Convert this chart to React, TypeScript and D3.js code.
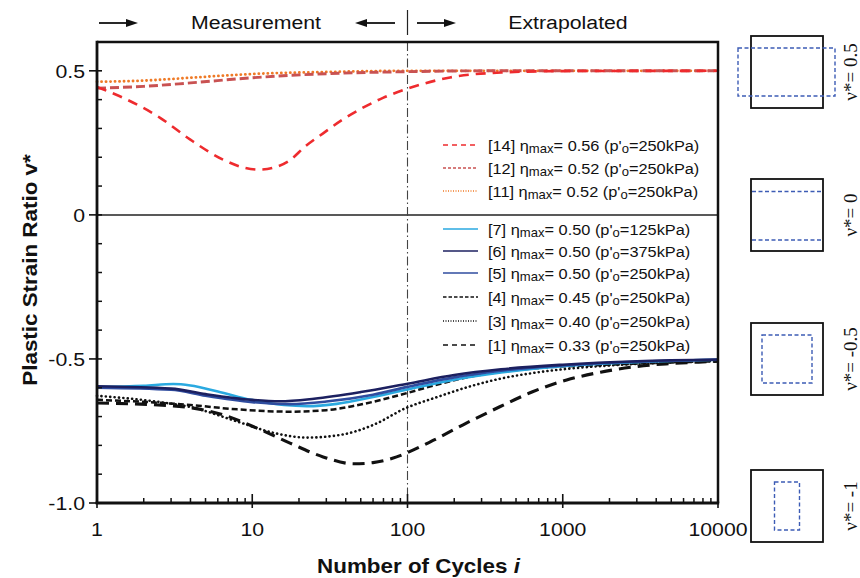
import React from "react";
import * as d3 from "d3";

// ---------- data ----------
const xTicksMajor = [1, 10, 100, 1000, 10000];
const xTickLabels = ["1", "10", "100", "1000", "10000"];
const yMajorValues = [-1.0, -0.5, 0, 0.5];
const yTickLabels = ["-1.0", "-0.5", "0", "0.5"];

const s14: [number, number][] = [[1, 0.444], [1.56, 0.4], [2.55, 0.337], [3.97, 0.262], [6.48, 0.192], [9, 0.163], [11.2, 0.157], [14, 0.165], [17.5, 0.19], [22, 0.238], [28.6, 0.283], [38, 0.33], [50, 0.368], [69.5, 0.406], [100, 0.438], [188, 0.477], [400, 0.494], [1000, 0.499], [10000, 0.5]];
const s12: [number, number][] = [[1, 0.44], [2, 0.446], [4, 0.458], [10, 0.476], [30, 0.49], [100, 0.497], [300, 0.5], [10000, 0.5]];
const s11: [number, number][] = [[1, 0.462], [2, 0.466], [4, 0.476], [10, 0.489], [30, 0.496], [100, 0.5], [10000, 0.5]];
const s7: [number, number][] = [[1, -0.597], [2, -0.593], [3.1, -0.587], [4, -0.592], [6, -0.613], [10, -0.643], [16, -0.66], [22.5, -0.664], [35, -0.656], [60, -0.632], [100, -0.606], [200, -0.572], [400, -0.547], [1000, -0.525], [3000, -0.511], [10000, -0.503]];
const s6: [number, number][] = [[1, -0.595], [3, -0.603], [5, -0.622], [10, -0.642], [15, -0.647], [25, -0.638], [50, -0.615], [100, -0.586], [200, -0.556], [400, -0.536], [1000, -0.52], [3000, -0.508], [10000, -0.502]];
const s5: [number, number][] = [[1, -0.6], [3, -0.607], [5, -0.628], [10, -0.65], [17.5, -0.657], [30, -0.648], [60, -0.624], [100, -0.597], [200, -0.564], [400, -0.541], [1000, -0.523], [3000, -0.51], [10000, -0.503]];
const s4: [number, number][] = [[1, -0.642], [2, -0.649], [4, -0.66], [8, -0.675], [17.5, -0.683], [30, -0.678], [47, -0.661], [100, -0.618], [139, -0.596], [241, -0.564], [639, -0.533], [1750, -0.521], [4620, -0.513], [10000, -0.508]];
const s3: [number, number][] = [[1, -0.628], [2.4, -0.648], [4, -0.667], [8.3, -0.72], [13.6, -0.756], [22.5, -0.773], [36.7, -0.764], [59.6, -0.73], [100, -0.668], [150, -0.635], [250, -0.596], [400, -0.568], [640, -0.549], [1000, -0.536], [1750, -0.525], [4600, -0.513], [10000, -0.507]];
const s1: [number, number][] = [[1, -0.653], [3.1, -0.663], [6.5, -0.694], [10.7, -0.74], [17.5, -0.792], [28.6, -0.84], [45, -0.864], [60, -0.86], [80, -0.845], [100, -0.825], [146, -0.783], [241, -0.722], [393, -0.666], [639, -0.614], [1060, -0.573], [1750, -0.546], [2840, -0.528], [4620, -0.517], [7500, -0.511], [10000, -0.508]];

const legendIds = ["[14]", "[12]", "[11]", "[7]", "[6]", "[5]", "[4]", "[3]", "[1]"];
const legendEta = ["0.56", "0.52", "0.52", "0.50", "0.50", "0.50", "0.45", "0.40", "0.33"];
const legendP = ["250", "250", "250", "125", "375", "250", "250", "250", "250"];

const diagramLabels = ["ν*= 0.5", "ν*= 0", "ν*= -0.5", "ν*= -1"];

// ---------- styles ----------
const SANS = "'Liberation Sans', Arial, Helvetica, sans-serif";
const SERIF = "'Liberation Serif', 'Times New Roman', serif";
const SX = 1.12;

type Sty = { color: string; width: number; dash?: string; cap?: string };
const styles: Record<string, Sty> = {
  "[14]": { color: "#ee2b2e", width: 2.6, dash: "10,7" },
  "[12]": { color: "#c95252", width: 2.9, dash: "9,4" },
  "[11]": { color: "#ef7a26", width: 2.8, dash: "0.1,4.4", cap: "round" },
  "[7]": { color: "#2aa9e0", width: 2.6 },
  "[6]": { color: "#1c2060", width: 2.6 },
  "[5]": { color: "#2f4c9f", width: 2.6 },
  "[4]": { color: "#111", width: 2.5, dash: "6,3" },
  "[3]": { color: "#111", width: 2.6, dash: "0.1,4.3", cap: "round" },
  "[1]": { color: "#111", width: 3.1, dash: "12,7" },
};
const legendStyles: Record<string, Sty> = {
  "[14]": { color: "#ee2b2e", width: 1.7, dash: "5,4" },
  "[12]": { color: "#c95252", width: 1.7, dash: "3,2" },
  "[11]": { color: "#ef7a26", width: 1.5, dash: "1,1.5" },
  "[7]": { color: "#2aa9e0", width: 1.6 },
  "[6]": { color: "#1c2060", width: 1.6 },
  "[5]": { color: "#2f4c9f", width: 1.6 },
  "[4]": { color: "#111", width: 1.4, dash: "3.5,2" },
  "[3]": { color: "#111", width: 1.3, dash: "1,1.5" },
  "[1]": { color: "#111", width: 1.7, dash: "5,4" },
};

const seriesDraw: [string, [number, number][]][] = [
  ["[1]", s1], ["[3]", s3], ["[4]", s4], ["[7]", s7], ["[5]", s5], ["[6]", s6],
  ["[11]", s11], ["[12]", s12], ["[14]", s14],
];

const W = 860, H = 578;
const X0 = 97, X1 = 718, Y0 = 503, YT = 42;

function T({ x, y, size, anchor = "start", weight = "normal", children, family = SANS }: any) {
  return (
    <g transform={`translate(${x},${y}) scale(${SX},1)`}>
      <text x={0} y={0} fontSize={size} textAnchor={anchor} fontWeight={weight} fontFamily={family} fill="#111">
        {children}
      </text>
    </g>
  );
}

function Arrow({ x1, x2, y }: { x1: number; x2: number; y: number }) {
  const dir = Math.sign(x2 - x1);
  const hl = 12, hw = 4;
  return (
    <g>
      <line x1={x1} y1={y} x2={x2 - dir * hl + dir} y2={y} stroke="#111" strokeWidth={1.8} />
      <path d={`M${x2},${y} L${x2 - dir * hl},${y - hw} L${x2 - dir * hl},${y + hw} Z`} fill="#111" />
    </g>
  );
}

export default function App() {
  const x = d3.scaleLog().domain([1, 10000]).range([X0, X1]);
  const y = d3.scaleLinear().domain([-1.0, 0.6]).range([Y0, YT]);
  const line = d3
    .line<[number, number]>()
    .x((d) => x(d[0]))
    .y((d) => y(d[1]))
    .curve(d3.curveMonotoneX);

  const minorX: number[] = [];
  for (let dec = 1; dec < 10000; dec *= 10) for (let k = 2; k <= 9; k++) minorX.push(dec * k);
  const minorY = d3.range(-10, 6).map((i) => i / 10).filter((v) => !yMajorValues.some((m) => Math.abs(m - v) < 1e-9));

  const legendY = [145, 168, 191, 229, 251, 273, 297, 321, 345];
  const xSep = x(100);

  const boxes = [
    { top: 36, inner: "wide" },
    { top: 179, inner: "lines" },
    { top: 323, inner: "small" },
    { top: 470, inner: "tall" },
  ];
  const bx = 751, bs = 72;
  const blue = "#3d5cb5";

  return (
    <svg width={W} height={H} style={{ position: "absolute", left: 0, top: 0, background: "#fff" }}>
      <rect x={0} y={0} width={W} height={H} fill="#fff" />

      {/* top annotation */}
      <Arrow x1={99} x2={138} y={23} />
      <T x={256} y={29} size={19} anchor="middle">Measurement</T>
      <Arrow x1={395} x2={355} y={23} />
      <line x1={xSep} y1={10} x2={xSep} y2={35} stroke="#222" strokeWidth={1.2} />
      <Arrow x1={417} x2={456} y={23} />
      <T x={568} y={29} size={19} anchor="middle">Extrapolated</T>

      {/* zero line */}
      <line x1={X0} x2={X1} y1={y(0)} y2={y(0)} stroke="#222" strokeWidth={1.5} />

      {/* separator dash-dot */}
      <line x1={xSep} x2={xSep} y1={YT} y2={Y0} stroke="#444" strokeWidth={1.1} strokeDasharray="9,3,1.5,3" />

      {/* curves */}
      {seriesDraw.map(([id, data]) => {
        const st = styles[id];
        return (
          <path key={id} d={line(data) || ""} fill="none" stroke={st.color} strokeWidth={st.width}
            strokeDasharray={st.dash} strokeLinecap={(st.cap as any) || "butt"} strokeLinejoin="round" />
        );
      })}

      {/* frame */}
      <path d={`M${X0},${YT} H${X1} V${Y0}`} fill="none" stroke="#111" strokeWidth={2.5} />
      <line x1={X0} y1={YT - 1.2} x2={X0} y2={Y0 + 1} stroke="#111" strokeWidth={2.8} />
      <line x1={X0 - 1.4} y1={Y0} x2={X1 + 1.2} y2={Y0} stroke="#111" strokeWidth={2.8} />

      {/* y ticks */}
      {minorY.map((v) => (
        <line key={"my" + v} x1={X0} x2={X0 + 5} y1={y(v)} y2={y(v)} stroke="#111" strokeWidth={1.5} />
      ))}
      {yMajorValues.map((v, i) => (
        <g key={"Y" + v}>
          <line x1={X0 - 8} x2={X0 + 5} y1={y(v)} y2={y(v)} stroke="#111" strokeWidth={1.6} />
          <T x={85} y={y(v) + 7} size={19} anchor="end">{yTickLabels[i]}</T>
        </g>
      ))}

      {/* x ticks */}
      {minorX.map((v) => (
        <line key={"mx" + v} x1={x(v)} x2={x(v)} y1={Y0} y2={Y0 - 5} stroke="#111" strokeWidth={1.5} />
      ))}
      {xTicksMajor.map((v, i) => (
        <g key={"X" + v}>
          <line x1={x(v)} x2={x(v)} y1={Y0 + 5} y2={Y0 - 9} stroke="#111" strokeWidth={1.6} />
          <T x={x(v)} y={536} size={19} anchor="middle">{xTickLabels[i]}</T>
        </g>
      ))}

      {/* axis titles */}
      <g transform={`translate(${(X0 + X1) / 2 + 11},573) scale(${SX},1)`}>
        <text textAnchor="middle" fontSize={20} fontWeight="bold" fontFamily={SANS} fill="#111">
          Number of Cycles <tspan fontStyle="italic">i</tspan>
        </text>
      </g>
      <g transform={`translate(37,270) rotate(-90) scale(${SX},1)`}>
        <text textAnchor="middle" fontSize={20} fontWeight="bold" fontFamily={SANS} fill="#111">
          Plastic Strain Ratio v*
        </text>
      </g>

      {/* legend */}
      {legendIds.map((id, i) => {
        const st = legendStyles[id];
        const ly = legendY[i];
        return (
          <g key={"lg" + id}>
            <line x1={443} x2={478} y1={ly} y2={ly} stroke={st.color} strokeWidth={st.width} strokeDasharray={st.dash} />
            <g transform={`translate(488,${ly + 5.5}) scale(1.09,1)`}>
              <text fontSize={15} fontFamily={SANS} fill="#111">
                <tspan>{id} η</tspan>
                <tspan fontSize={12} dy={2.5}>max</tspan>
                <tspan dy={-2.5}>= {legendEta[i]} (p'</tspan>
                <tspan fontSize={12} dy={2.5}>o</tspan>
                <tspan dy={-2.5}>={legendP[i]}kPa)</tspan>
              </text>
            </g>
          </g>
        );
      })}

      {/* right-side diagrams */}
      {boxes.map((b, i) => {
        const cx = bx + bs / 2, cy = b.top + bs / 2;
        let inner: React.ReactNode = null;
        if (b.inner === "wide") inner = <rect x={738} y={b.top + 12} width={97} height={48} fill="none" stroke={blue} strokeWidth={1.4} strokeDasharray="4,2.5" />;
        if (b.inner === "lines")
          inner = (
            <g>
              <line x1={bx + 1} x2={bx + bs - 1} y1={b.top + 12.5} y2={b.top + 12.5} stroke={blue} strokeWidth={1.4} strokeDasharray="4,2.5" />
              <line x1={bx + 1} x2={bx + bs - 1} y1={b.top + 61} y2={b.top + 61} stroke={blue} strokeWidth={1.4} strokeDasharray="4,2.5" />
            </g>
          );
        if (b.inner === "small") inner = <rect x={cx - 25} y={cy - 24} width={50} height={48} fill="none" stroke={blue} strokeWidth={1.4} strokeDasharray="4,2.5" />;
        if (b.inner === "tall") inner = <rect x={cx - 12.5} y={cy - 24} width={25} height={48} fill="none" stroke={blue} strokeWidth={1.4} strokeDasharray="4,2.5" />;
        return (
          <g key={"box" + i}>
            <rect x={bx} y={b.top} width={bs} height={bs} fill="none" stroke="#111" strokeWidth={1.8} />
            {inner}
            <text transform={`translate(857,${cy}) rotate(-90)`} textAnchor="middle" fontSize={19} fontFamily={SERIF} fill="#111">
              {diagramLabels[i]}
            </text>
          </g>
        );
      })}
    </svg>
  );
}
